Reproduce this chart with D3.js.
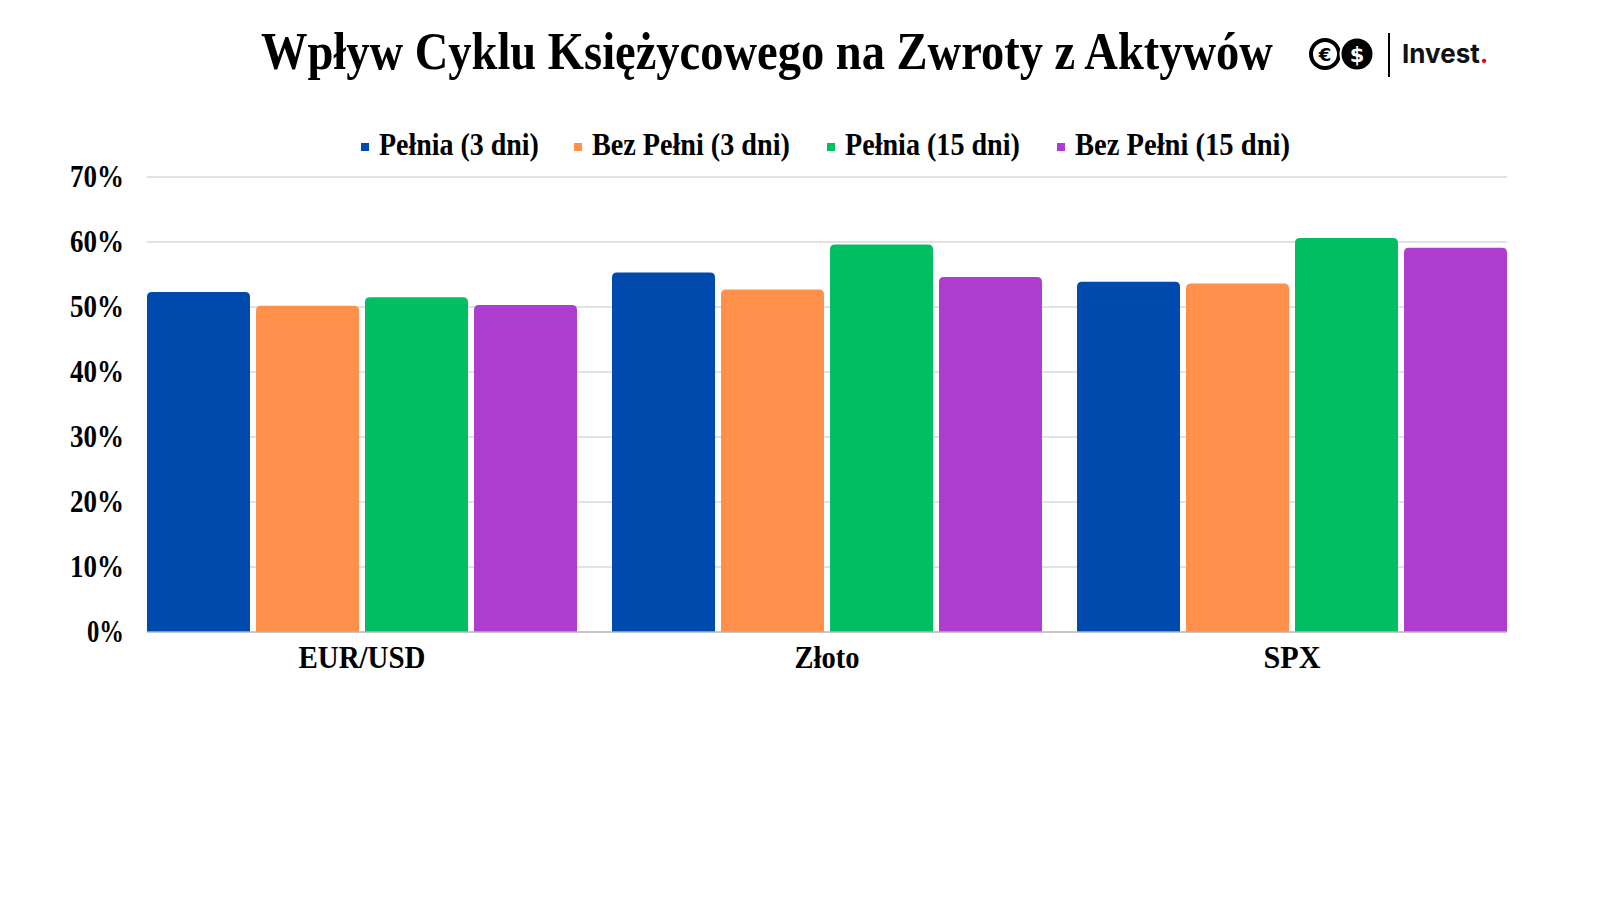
<!DOCTYPE html>
<html>
<head>
<meta charset="utf-8">
<script src="https://cdn.jsdelivr.net/npm/d3@7"></script>
<style>
  html, body { margin: 0; padding: 0; background: #ffffff; }
  svg { display: block; }
</style>
</head>
<body>
<svg id="chart" width="1600" height="900"></svg>
<script>
// ---- Data ----
const categories = ["EUR/USD", "Złoto", "SPX"];
const seriesNames = ["Pełnia (3 dni)", "Bez Pełni (3 dni)", "Pełnia (15 dni)", "Bez Pełni (15 dni)"];
const pelnia3 = [52.3, 55.3, 53.9];
const bezPelni3 = [50.2, 52.7, 53.6];
const pelnia15 = [51.5, 59.6, 60.6];
const bezPelni15 = [50.3, 54.6, 59.1];
const yTicks = [0, 10, 20, 30, 40, 50, 60, 70];
const titleText = "Wpływ Cyklu Księżycowego na Zwroty z Aktywów";

const seriesValues = [pelnia3, bezPelni3, pelnia15, bezPelni15];
const colors = ["#004AAD", "#FF914D", "#00BF63", "#AD3DCF"];

const svg = d3.select("#chart");
const serif = "'Liberation Serif', 'Times New Roman', serif";

// Horizontally condense a text element to a target width around anchor x
function condense(node, target, ax) {
  const w = node.getComputedTextLength();
  if (!w) return;
  const s = Math.min(1, target / w);
  d3.select(node).attr("transform", `translate(${ax},0) scale(${s},1) translate(${-ax},0)`);
}

// ---- Scales ----
const plot = { left: 147, right: 1507, top: 177, bottom: 632 };
const x0 = d3.scaleBand().domain(categories).range([plot.left, plot.right]).paddingInner(0.0753).paddingOuter(0);
const x1 = d3.scaleBand().domain(d3.range(seriesNames.length)).range([0, x0.bandwidth()]).paddingInner(0.055).paddingOuter(0);
const y = d3.scaleLinear().domain([0, 70]).range([plot.bottom, plot.top]);

// ---- Gridlines ----
svg.append("g").selectAll("line").data(yTicks.filter(t => t > 0)).join("line")
  .attr("x1", plot.left).attr("x2", plot.right)
  .attr("y1", d => y(d)).attr("y2", d => y(d))
  .attr("stroke", "#d9d9d9").attr("stroke-width", 1.3);

// ---- Y axis labels ----
const yAxis = d3.axisLeft(y).tickValues(yTicks).tickFormat(d => d + "%").tickSize(0).tickPadding(0);
const yG = svg.append("g").attr("transform", `translate(124,0)`).call(yAxis);
yG.select(".domain").remove();
yG.selectAll("text")
  .attr("font-family", serif).attr("font-weight", "bold").attr("font-size", 31)
  .attr("fill", "#000").attr("dy", "0.32em")
  .each(function(d) { condense(this, d === 0 ? 37 : 54, 0); });

// ---- Bars ----
function topRounded(x, yTop, w, h, r) {
  r = Math.min(r, h, w / 2);
  return `M${x},${yTop + h}V${yTop + r}Q${x},${yTop} ${x + r},${yTop}H${x + w - r}Q${x + w},${yTop} ${x + w},${yTop + r}V${yTop + h}Z`;
}
const barData = [];
categories.forEach((c, ci) => {
  seriesValues.forEach((arr, si) => barData.push({ cat: c, s: si, v: arr[ci] }));
});
svg.append("g").selectAll("path").data(barData).join("path")
  .attr("d", d => {
    const bx = x0(d.cat) + x1(d.s);
    const by = y(d.v);
    return topRounded(bx, by, x1.bandwidth(), y(0) - by, 5);
  })
  .attr("fill", d => colors[d.s]);

// ---- Baseline ----
svg.append("line")
  .attr("x1", plot.left).attr("x2", plot.right)
  .attr("y1", y(0)).attr("y2", y(0))
  .attr("stroke", "#b5b5b5").attr("stroke-width", 1.5);

// ---- X axis labels ----
const xLabelW = { "EUR/USD": 127, "Złoto": 65, "SPX": 57 };
const xAxis = d3.axisBottom(x0).tickSize(0).tickPadding(0);
const xG = svg.append("g").attr("transform", `translate(0,${plot.bottom})`).call(xAxis);
xG.select(".domain").remove();
xG.selectAll("text")
  .attr("font-family", serif).attr("font-weight", "bold").attr("font-size", 31)
  .attr("fill", "#000").attr("dy", 0).attr("y", 36)
  .each(function(d) { condense(this, xLabelW[d], 0); });

// ---- Title ----
svg.append("text")
  .attr("x", 261).attr("y", 69)
  .attr("font-family", serif).attr("font-weight", "bold").attr("font-size", 52)
  .attr("fill", "#000")
  .text(titleText)
  .each(function() { condense(this, 1012, 261); });

// ---- Legend ----
const legendX = [361, 574, 827, 1057];
const legendW = [160, 198, 175, 215];
const lg = svg.append("g");
seriesNames.forEach((n, i) => {
  lg.append("rect").attr("x", legendX[i]).attr("y", 143).attr("width", 8).attr("height", 8).attr("fill", colors[i]);
  lg.append("text")
    .attr("x", legendX[i] + 18).attr("y", 155)
    .attr("font-family", serif).attr("font-weight", "bold").attr("font-size", 32)
    .attr("fill", "#000").text(n)
    .each(function() { condense(this, legendW[i], legendX[i] + 18); });
});

// ---- Logo ----
const logo = svg.append("g");
logo.append("circle").attr("cx", 1325).attr("cy", 54).attr("r", 14).attr("fill", "#fff").attr("stroke", "#000").attr("stroke-width", 4);
logo.append("text").attr("x", 1325).attr("y", 61).attr("text-anchor", "middle")
  .attr("font-family", "'DejaVu Sans', sans-serif").attr("font-weight", "bold").attr("font-size", 18).attr("fill", "#000").text("€");
logo.append("circle").attr("cx", 1357).attr("cy", 54).attr("r", 16.5).attr("fill", "#000").attr("stroke", "#fff").attr("stroke-width", 2);
logo.append("text").attr("x", 1357).attr("y", 62).attr("text-anchor", "middle")
  .attr("font-family", "'DejaVu Sans', sans-serif").attr("font-weight", "bold").attr("font-size", 21).attr("fill", "#fff").text("$");
logo.append("line").attr("x1", 1389).attr("x2", 1389).attr("y1", 33).attr("y2", 77).attr("stroke", "#000").attr("stroke-width", 2);
const inv = logo.append("text").attr("x", 1402).attr("y", 63)
  .attr("font-family", "Inter, 'Open Sans', sans-serif").attr("font-weight", "bold").attr("font-size", 26).attr("fill", "#111");
inv.append("tspan").text("Invest");
inv.append("tspan").attr("fill", "#e30613").text(".");
</script>
</body>
</html>
